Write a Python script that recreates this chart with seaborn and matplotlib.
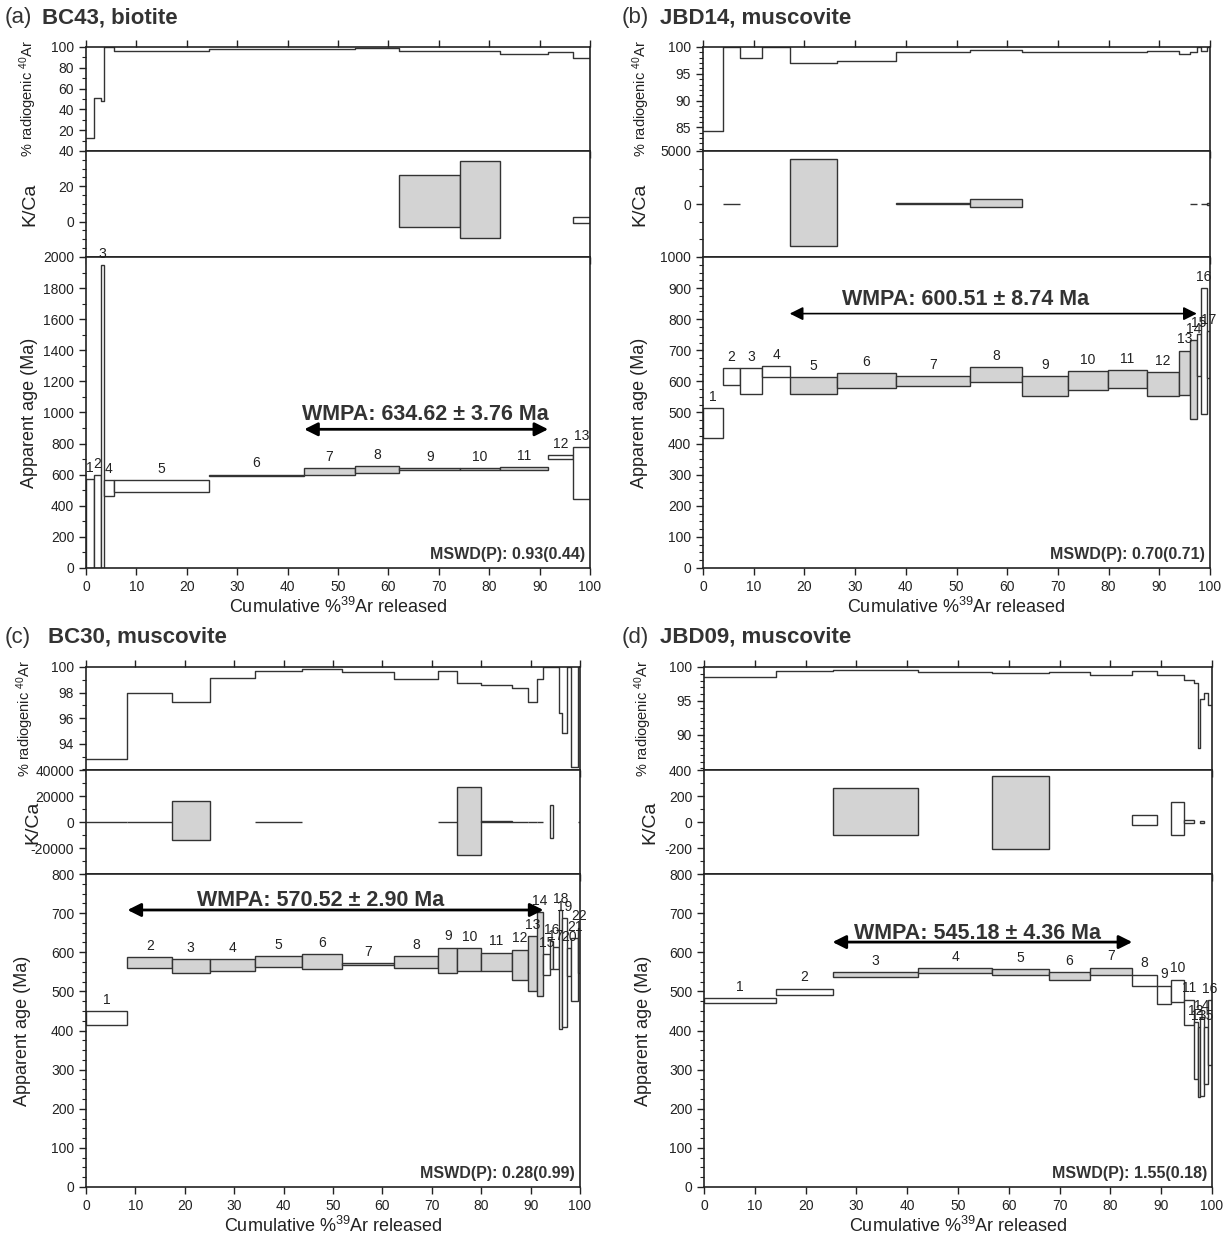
import numpy as np
import matplotlib.pyplot as plt
import seaborn as sns
from matplotlib.ticker import AutoMinorLocator

sns.set_style('ticks')
plt.rcParams['font.family'] = ['Liberation Sans', 'DejaVu Sans']
plt.rcParams['mathtext.fontset'] = 'custom'
plt.rcParams['mathtext.rm'] = 'Liberation Sans'
plt.rcParams['mathtext.it'] = 'Liberation Sans:italic'
plt.rcParams['mathtext.bf'] = 'Liberation Sans:bold'
plt.rcParams['axes.unicode_minus'] = False

# (a) BC43, biotite
a_cum = [0, 1.6, 3.0, 3.5, 5.5, 24.4, 43.3, 53.3, 62.2, 74.2, 82.2, 91.7, 96.6, 100]
a_rad = [12.7, 50.8, 47.6, 100, 96.5, 98.4, 98.4, 99.2, 96.5, 96.5, 93.6, 95.2, 89.2]
a_age_lo = [0, 0, 0, 460, 488, 592, 595, 612, 629, 629, 633, 704, 441]
a_age_hi = [573, 595, 1950, 565, 565, 601, 642, 657, 642, 642, 648, 727, 776]
a_plateau = (7, 11)
a_kca_step = [9, 10, 13]
a_kca_lo = [-3.2, -9.0, -1.0]
a_kca_hi = [26.3, 34.5, 2.5]
a_wmpa = 'WMPA: 634.62 ± 3.76 Ma'
a_mswd = 'MSWD(P): 0.93(0.44)'

# (b) JBD14, muscovite
b_cum = [0, 4.0, 7.2, 11.7, 17.1, 26.4, 38.1, 52.6, 62.9, 71.9, 79.9, 87.6, 93.8, 96.1, 97.4, 98.3, 99.4, 100]
b_rad = [84.4, 100, 97.9, 100, 97.1, 97.4, 99.1, 99.4, 99.1, 99.1, 99.1, 99.3, 98.75, 99.1, 100, 99.3, 100]
b_age_lo = [418, 588, 560, 614, 560, 579, 585, 599, 554, 571, 579, 554, 556, 478, 617, 495, 610]
b_age_hi = [515, 644, 644, 650, 614, 627, 616, 647, 616, 634, 637, 631, 699, 734, 752, 900, 762]
b_plateau = (5, 14)
b_kca_step = [2, 5, 7, 8, 14, 16, 17]
b_kca_lo = [-40, -3930, -20, -315, -40, -40, -120]
b_kca_hi = [40, 4220, 80, 440, 40, 40, 60]
b_wmpa = 'WMPA: 600.51 ± 8.74 Ma'
b_mswd = 'MSWD(P): 0.70(0.71)'

# (c) BC30, muscovite
c_cum = [0, 8.4, 17.4, 25.0, 34.2, 43.7, 51.9, 62.3, 71.3, 75.2, 80.0, 86.2, 89.5, 91.2, 92.6,
         93.9, 94.6, 95.7, 96.4, 97.3, 98.2, 99.6, 100]
c_rad = [92.84, 97.98, 97.3, 99.17, 99.69, 99.84, 99.6, 99.07, 99.66, 98.78, 98.58, 98.34, 97.3,
         99.07, 100, 100, 100, 96.4, 94.85, 100, 92.2, 100]
c_age_lo = [413, 560, 548, 551, 563, 557, 568, 560, 546, 553, 553, 529, 501, 487, 541, 557, 557,
            405, 409, 540, 475, 547]
c_age_hi = [449, 588, 582, 582, 591, 596, 573, 591, 612, 610, 599, 607, 641, 702, 595, 629, 614,
            708, 688, 611, 637, 663]
c_plateau = (2, 14)
c_kca_step = [1, 2, 3, 5, 9, 10, 11, 12, 13, 14, 16, 22]
c_kca_lo = [-150, -150, -13700, -150, -150, -25300, -100, -150, -150, -150, -12100, -150]
c_kca_hi = [150, 150, 16000, 150, 150, 27100, 800, 150, 150, 150, 13400, 150]
c_wmpa = 'WMPA: 570.52 ± 2.90 Ma'
c_mswd = 'MSWD(P): 0.28(0.99)'

# (d) JBD09, muscovite
d_cum = [0, 14.1, 25.3, 42.2, 56.7, 68.0, 75.9, 84.3, 89.1, 92.0, 94.5, 96.5, 97.2, 97.6, 98.4, 99.2, 100]
d_rad = [98.58, 99.36, 99.56, 99.2, 99.07, 99.2, 98.87, 99.36, 98.87, 98.87, 98.04, 97.65, 87.94,
         95.2, 96.1, 94.3]
d_age_lo = [471, 490, 537, 546, 541, 529, 541, 513, 467, 472, 415, 276, 231, 233, 263, 312]
d_age_hi = [482, 507, 549, 559, 557, 549, 561, 543, 515, 530, 479, 422, 409, 435, 409, 478]
d_plateau = (3, 7)
d_kca_step = [3, 5, 8, 10, 11, 14]
d_kca_lo = [-103, -206, -21, -103, -5, -8]
d_kca_hi = [258, 351, 57, 157, 18, 8]
d_wmpa = 'WMPA: 545.18 ± 4.36 Ma'
d_mswd = 'MSWD(P): 1.55(0.18)'

W, H = 1228, 1238
GREY = '#d3d3d3'
EDGE = '#333333'
TXT = '#333333'

fig = plt.figure(figsize=(W / 100, H / 100), dpi=100)


def px_rect(x0, x1, y0, y1):
    return [x0 / W, 1 - y1 / H, (x1 - x0) / W, (y1 - y0) / H]


top_row = (47, 151, 257, 568)
bot_row = (667, 770, 874, 1187)

panels = [
    dict(tag='(a)', name='BC43, biotite', title=(5, 42, 18), xpix=(86, 590), rows=top_row,
         cum=a_cum, rad=a_rad, lo=a_age_lo, hi=a_age_hi, plat=a_plateau,
         ks=a_kca_step, klo=a_kca_lo, khi=a_kca_hi, wmpa=a_wmpa, mswd=a_mswd,
         rad_lim=(0, 100), rad_ticks=[20, 40, 60, 80, 100], rad_minor=2,
         kca_lim=(-20, 40), kca_ticks=[0, 20, 40], kca_minor=4,
         age_max=2000, age_step=200, age_minor=2,
         wmpa_xy=(67.3, 984), arrow_y=892, arrow_lw=2.0, ylab=(-0.093, -0.095, -0.095)),
    dict(tag='(b)', name='JBD14, muscovite', title=(622, 660, 18), xpix=(703, 1210), rows=top_row,
         cum=b_cum, rad=b_rad, lo=b_age_lo, hi=b_age_hi, plat=b_plateau,
         ks=b_kca_step, klo=b_kca_lo, khi=b_kca_hi, wmpa=b_wmpa, mswd=b_mswd,
         rad_lim=(80.6, 100), rad_ticks=[85, 90, 95, 100], rad_minor=5,
         kca_lim=(-5000, 5000), kca_ticks=[0, 5000], kca_minor=3,
         age_max=1000, age_step=100, age_minor=4,
         wmpa_xy=(51.8, 863), arrow_y=818, arrow_lw=1.2, ylab=(-0.10, -0.108, -0.108)),
    dict(tag='(c)', name='BC30, muscovite', title=(5, 48, 637), xpix=(86, 580), rows=bot_row,
         cum=c_cum, rad=c_rad, lo=c_age_lo, hi=c_age_hi, plat=c_plateau,
         ks=c_kca_step, klo=c_kca_lo, khi=c_kca_hi, wmpa=c_wmpa, mswd=c_mswd,
         rad_lim=(91.96, 100), rad_ticks=[94, 96, 98, 100], rad_minor=2,
         kca_lim=(-40000, 40000), kca_ticks=[-20000, 0, 20000, 40000], kca_minor=2,
         age_max=800, age_step=100, age_minor=4,
         wmpa_xy=(47.4, 733), arrow_y=708, arrow_lw=2.0, ylab=(-0.101, -0.09, -0.111)),
    dict(tag='(d)', name='JBD09, muscovite', title=(622, 660, 637), xpix=(704, 1212), rows=bot_row,
         cum=d_cum, rad=d_rad, lo=d_age_lo, hi=d_age_hi, plat=d_plateau,
         ks=d_kca_step, klo=d_kca_lo, khi=d_kca_hi, wmpa=d_wmpa, mswd=d_mswd,
         rad_lim=(84.75, 100), rad_ticks=[90, 95, 100], rad_minor=5,
         kca_lim=(-400, 400), kca_ticks=[-200, 0, 200, 400], kca_minor=2,
         age_max=800, age_step=100, age_minor=4,
         wmpa_xy=(53.8, 648), arrow_y=626, arrow_lw=2.0, ylab=(-0.098, -0.09, -0.102)),
]


def style_axis(ax):
    for s in ax.spines.values():
        s.set_linewidth(1.2)
        s.set_color('#222222')
    ax.tick_params(which='major', direction='out', length=5, width=1, labelsize=10, colors='#222222')
    ax.tick_params(which='minor', direction='out', length=3, width=0.8, colors='#222222')
    ax.set_xlim(0, 100)
    ax.set_xticks(np.arange(0, 101, 10))


for p in panels:
    x0, x1 = p['xpix']
    yA, yB, yC, yD = p['rows']
    ax_r = fig.add_axes(px_rect(x0, x1, yA, yB))
    ax_k = fig.add_axes(px_rect(x0, x1, yB, yC))
    ax_a = fig.add_axes(px_rect(x0, x1, yC, yD))

    cum = np.array(p['cum'])
    left = cum[:-1]
    width = np.diff(cum)
    n = len(width)
    steps = np.arange(1, n + 1)
    p0, p1 = p['plat']
    in_plat = (steps >= p0) & (steps <= p1)

    # % radiogenic 40Ar step curve
    rad = list(p['rad'])
    sns.lineplot(x=cum, y=rad + [rad[-1]], drawstyle='steps-post', estimator=None,
                 color=EDGE, linewidth=1.0, ax=ax_r)
    style_axis(ax_r)
    ax_r.set_ylim(*p['rad_lim'])
    ax_r.set_yticks(p['rad_ticks'])
    ax_r.yaxis.set_minor_locator(AutoMinorLocator(p['rad_minor']))
    ax_r.tick_params(axis='x', which='both', top=True, bottom=True, labelbottom=False)
    ax_r.set_xlabel('')
    ax_r.set_ylabel(r'% radiogenic $^{40}$Ar', fontsize=10.5, color='#222222')
    ax_r.yaxis.set_label_coords(p['ylab'][0], 0.5)

    # K/Ca boxes
    ks = np.array(p['ks']) - 1
    klo = np.array(p['klo'])
    khi = np.array(p['khi'])
    kcol = [GREY if in_plat[i] else 'white' for i in ks]
    ax_k.bar(left[ks], khi - klo, width=width[ks], bottom=klo, align='edge',
             color=kcol, edgecolor=EDGE, linewidth=1.0)
    style_axis(ax_k)
    ax_k.set_ylim(*p['kca_lim'])
    ax_k.set_yticks(p['kca_ticks'])
    ax_k.yaxis.set_minor_locator(AutoMinorLocator(p['kca_minor']))
    ax_k.tick_params(axis='x', which='both', labelbottom=False)
    ax_k.set_ylabel('K/Ca', fontsize=14, color='#222222')
    ax_k.yaxis.set_label_coords(p['ylab'][1], 0.5)

    # age spectrum
    lo = np.array(p['lo'])
    hi = np.array(p['hi'])
    acol = [GREY if f else 'white' for f in in_plat]
    ax_a.bar(left, hi - lo, width=width, bottom=lo, align='edge',
             color=acol, edgecolor=EDGE, linewidth=1.0)
    for i in range(n):
        ax_a.annotate(str(i + 1), (left[i] + width[i] / 2, hi[i]), xytext=(0, 3),
                      textcoords='offset points', ha='center', va='bottom',
                      fontsize=10, color='#222222', annotation_clip=False)
    style_axis(ax_a)
    ax_a.set_ylim(0, p['age_max'])
    ax_a.set_yticks(np.arange(0, p['age_max'] + 1, p['age_step']))
    ax_a.yaxis.set_minor_locator(AutoMinorLocator(p['age_minor']))
    ax_a.set_ylabel('Apparent age (Ma)', fontsize=13, color='#222222')
    ax_a.yaxis.set_label_coords(p['ylab'][2], 0.5)
    ax_a.set_xlabel(r'Cumulative %$^{39}$Ar released', fontsize=13, color='#222222', labelpad=2)

    ya = p['arrow_y']
    ax_a.annotate('', xy=(cum[p1], ya), xytext=(cum[p0 - 1], ya),
                  arrowprops=dict(arrowstyle='<|-|>,head_length=0.8,head_width=0.4',
                                  color='black', lw=p['arrow_lw'], shrinkA=0, shrinkB=0))
    ax_a.text(p['wmpa_xy'][0], p['wmpa_xy'][1], p['wmpa'], ha='center', va='center',
              fontsize=15.5, fontweight='bold', color=TXT)
    ax_a.text(0.99, 0.02, p['mswd'], transform=ax_a.transAxes, ha='right', va='bottom',
              fontsize=11.5, fontweight='bold', color=TXT)

    tx, bx, ty = p['title']
    fig.text(tx / W, 1 - ty / H, p['tag'], fontsize=16, va='center', color=TXT)
    fig.text(bx / W, 1 - ty / H, p['name'], fontsize=16, va='center', fontweight='bold', color=TXT)

fig.savefig('out.png', dpi=100)
